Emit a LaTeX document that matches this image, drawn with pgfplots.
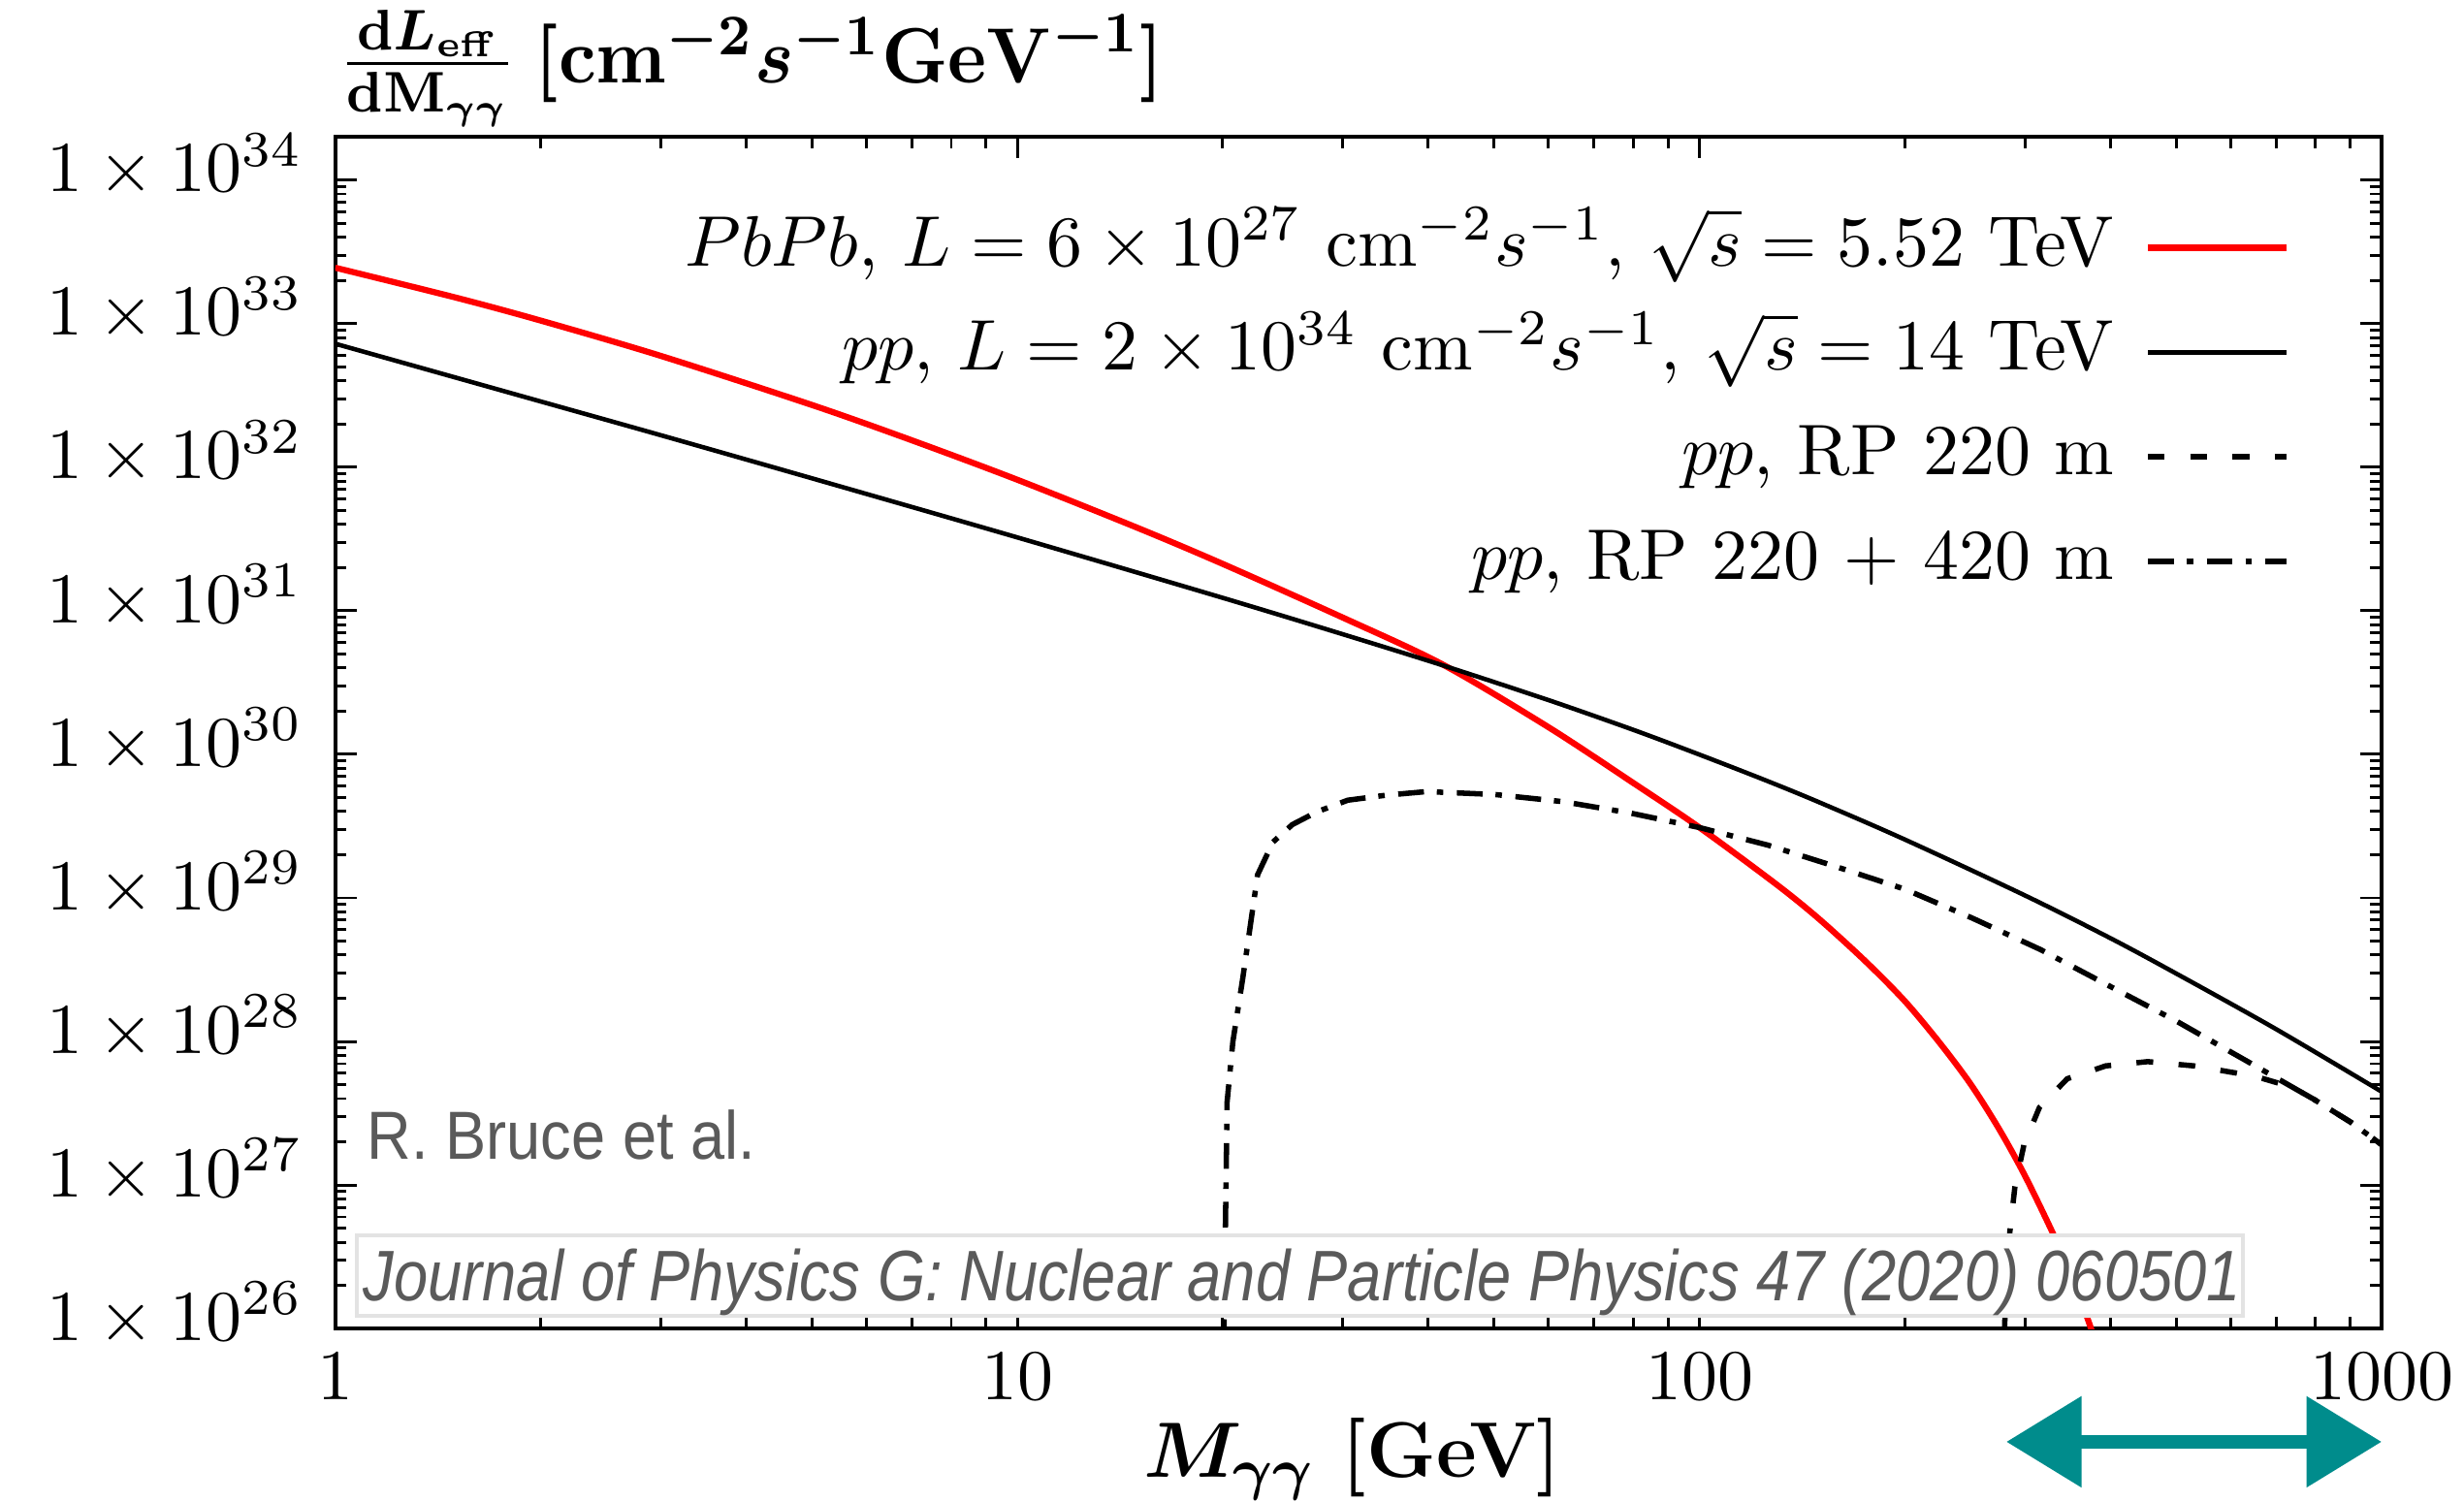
\documentclass[border=0pt]{standalone}
\usepackage[no-math]{fontspec}
\usepackage{graphicx}
\usepackage{pgfplots}
\pgfplotsset{compat=1.18}
\usetikzlibrary{arrows.meta}
\newfontfamily\annfont{Liberation Sans}
\definecolor{anngray}{HTML}{5A5A5A}
\definecolor{arrowteal}{HTML}{008C8C}
\begin{document}
\begin{tikzpicture}
\begin{axis}[
  name=ax,
  scale only axis,
  width=285.7pt, height=166.4pt,
  xmode=log, ymode=log,
  xmin=1, xmax=1000, ymin=1e26, ymax=2e34,
  xtick={1,10,100,1000},
  xticklabels={$1$,$10$,$100$,$1000$},
  ytick={1e26,1e27,1e28,1e29,1e30,1e31,1e32,1e33,1e34},
  yticklabels={$1\times10^{26}$,$1\times10^{27}$,$1\times10^{28}$,$1\times10^{29}$,$1\times10^{30}$,$1\times10^{31}$,$1\times10^{32}$,$1\times10^{33}$,$1\times10^{34}$},
  yticklabel style={xshift=-1pt, yshift=2pt},
  tick align=inside, tick pos=both,
  major tick length=3pt, minor tick length=1.6pt,
  tick style={black, line width=0.4pt},
  axis line style={line width=0.5pt},
  clip mode=individual,
  legend cell align=right,
  legend plot pos=right,
  legend image code/.code={\draw[#1] (0pt,0pt) -- (19.3pt,0pt);},
  legend style={draw=none, fill=none, at={(1,1)}, anchor=north east,
    xshift=-12.7pt, yshift=-10.3pt, inner sep=0pt, row sep=4.6pt, column sep=4.3pt,
    nodes={inner sep=0pt, text height=7.5pt, text depth=2.5pt}},
]
% PbPb
\addplot[red, line width=0.85pt, smooth] coordinates {
(1,2.45e33) (1.5,1.52e33) (2,1.05e33) (3,5.96e32) (5,2.71e32) (7,1.54e32) (10,8.17e31)
(15,3.78e31) (20,2.12e31) (30,8.96e30) (42,4.23e30) (60,1.55e30)
(80,6.31e29) (100,3.09e29) (130,1.23e29) (150,7.08e28) (175,3.63e28) (200,1.91e28)
(225,9.77e27) (250,5.01e27) (275,2.45e27) (300,1.16e27) (330,4.57e26) (350,2.40e26)
(370,1.20e26) (390,5.75e25)
};
\addlegendentry{$PbPb$, $L = 6\times 10^{27}~\mathrm{cm}^{-2}s^{-1}$, $\sqrt{s} = 5.52$ TeV}
% pp
\addplot[black, line width=0.62pt, smooth] coordinates {
(1,7.24e32) (2,2.87e32) (3,1.67e32) (5,8.36e31) (10,3.24e31) (20,1.23e31)
(30,6.86e30) (42,4.17e30) (60,2.39e30) (80,1.48e30) (100,9.95e29) (125,6.59e29) (150,4.62e29)
(200,2.55e29) (300,1.04e29) (400,5.25e28) (500,2.97e28) (700,1.22e28) (1000,4.47e27)
};
\addlegendentry{$pp$, $L = 2\times 10^{34}~\mathrm{cm}^{-2}s^{-1}$, $\sqrt{s} = 14$ TeV}
% RP 220
\addplot[black, line width=0.75pt, dash pattern=on 2.35pt off 3.55pt] coordinates {
(279,5e25) (280,1e26) (281.8,2.24e26) (285,4.68e26) (290,9.77e26) (299,1.91e27)
(315,3.47e27) (346,5.5e27) (394,6.76e27) (454,7.24e27) (531,6.76e27) (612,6.03e27)
(661,5.62e27) (741,4.79e27) (794,3.98e27) (900,2.75e27) (1000,1.91e27)
};
\addlegendentry{$pp$, RP 220 m}
% RP 220 + 420
\addplot[black, line width=0.75pt, dash pattern=on 3.6pt off 1.8pt on 0.9pt off 1.9pt] coordinates {
(20.0,3e25) (20.09,1e26) (20.3,3.8e27) (20.7,1.0e28) (21.4,2.75e28) (22.5,1.45e29)
(23.7,2.45e29) (25.3,3.24e29) (27.5,3.98e29) (30.5,4.79e29) (34.7,5.19e29) (39.8,5.5e29)
(50.1,5.25e29) (63.1,4.68e29) (79.4,3.89e29) (100,3.09e29) (126,2.33e29) (158,1.66e29)
(200,1.15e29) (251,7.24e28) (316,4.37e28) (398,2.45e28) (501,1.38e28) (631,7.41e27)
(741,4.79e27) (794,3.98e27) (900,2.75e27) (1000,1.91e27)
};
\addlegendentry{$pp$, RP 220 $+$ 420 m}

% annotations
\node[anchor=base west, inner sep=0pt, text=anngray,
  font=\annfont\fontsize{9.5}{11}\selectfont, xshift=4.3pt, yshift=23.7pt]
  at (rel axis cs:0,0) {\scalebox{0.9}[1]{R. Bruce et al.}};
\draw[gray!22, fill=white, line width=0.5pt]
  ([xshift=3pt,yshift=1.8pt]rel axis cs:0,0) rectangle ([xshift=266.3pt,yshift=13pt]rel axis cs:0,0);
\node[anchor=base west, inner sep=0pt, text=anngray,
  font=\annfont\itshape\fontsize{10}{12}\selectfont, xshift=3.7pt, yshift=3.9pt]
  at (rel axis cs:0,0) {\scalebox{0.856}[1]{Journal of Physics G: Nuclear and Particle Physics 47 (2020) 060501}};

% axis labels
\node[anchor=west, inner sep=0pt, xshift=0.3pt, yshift=9.6pt,
  font=\fontsize{11}{13}\selectfont\boldmath] at (rel axis cs:0,1)
  {\scalebox{0.94}[1]{$\frac{\mathrm{d}L_{\mathrm{eff}}}{\mathrm{dM}_{\gamma\gamma}}$\hspace{0.25em}$[\mathrm{cm}^{-2}s^{-1}\mathrm{GeV}^{-1}]$}};
\node[anchor=base, inner sep=0pt, yshift=-20.8pt,
  font=\fontsize{11}{13}\selectfont\boldmath] at (rel axis cs:0.497,0)
  {$M_{\gamma\gamma}$ \textbf{[GeV]}};

% arrow
\draw[arrowteal, line width=1.8pt, {Triangle[length=10.5pt,width=12.3pt]}-{Triangle[length=10.5pt,width=12.3pt]}]
  ([yshift=-15.8pt]rel axis cs:0.8166,0) -- ([yshift=-15.8pt]rel axis cs:1,0);
\end{axis}
\pgfresetboundingbox
\path[use as bounding box] (ax.south west) ++(-46.8pt,-24.1pt) rectangle ++(344pt,209.6pt);
\end{tikzpicture}
\end{document}
